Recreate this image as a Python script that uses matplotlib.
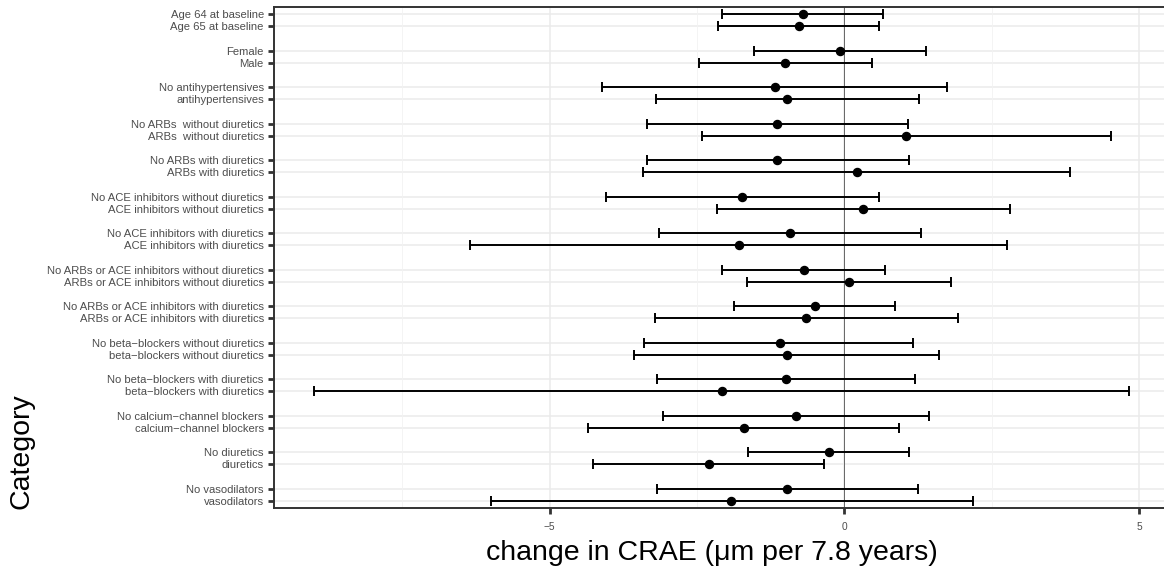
import matplotlib
matplotlib.use('Agg')
import matplotlib.pyplot as plt
from matplotlib.ticker import FixedLocator

# subgroup labels, top to bottom (pairs of levels)
categories = [
    "Age 64 at baseline", "Age 65 at baseline",
    "Female", "Male",
    "No antihypertensives", "antihypertensives",
    "No ARBs  without diuretics", "ARBs  without diuretics",
    "No ARBs with diuretics", "ARBs with diuretics",
    "No ACE inhibitors without diuretics", "ACE inhibitors without diuretics",
    "No ACE inhibitors with diuretics", "ACE inhibitors with diuretics",
    "No ARBs or ACE inhibitors without diuretics", "ARBs or ACE inhibitors without diuretics",
    "No ARBs or ACE inhibitors with diuretics", "ARBs or ACE inhibitors with diuretics",
    "No beta\u2212blockers without diuretics", "beta\u2212blockers without diuretics",
    "No beta\u2212blockers with diuretics", "beta\u2212blockers with diuretics",
    "No calcium\u2212channel blockers", "calcium\u2212channel blockers",
    "No diuretics", "diuretics",
    "No vasodilators", "vasodilators",
]

estimate = [
    -0.71, -0.77,
    -0.07, -1.00,
    -1.18, -0.97,
    -1.14, 1.05,
    -1.14, 0.21,
    -1.73, 0.32,
    -0.92, -1.78,
    -0.69, 0.08,
    -0.50, -0.65,
    -1.10, -0.98,
    -0.99, -2.08,
    -0.82, -1.71,
    -0.27, -2.30,
    -0.97, -1.92,
]

lower = [
    -2.07, -2.14,
    -1.53, -2.46,
    -4.11, -3.19,
    -3.34, -2.42,
    -3.35, -3.41,
    -4.04, -2.16,
    -3.14, -6.34,
    -2.07, -1.65,
    -1.87, -3.22,
    -3.40, -3.57,
    -3.18, -8.99,
    -3.07, -4.35,
    -1.63, -4.27,
    -3.17, -6.00,
]

upper = [
    0.65, 0.59,
    1.38, 0.46,
    1.74, 1.26,
    1.07, 4.52,
    1.09, 3.83,
    0.58, 2.80,
    1.29, 2.76,
    0.68, 1.81,
    0.85, 1.93,
    1.17, 1.61,
    1.20, 4.83,
    1.43, 0.93,
    1.09, -0.34,
    1.25, 2.18,
]

plt.rcParams['font.family'] = ['Liberation Sans', 'DejaVu Sans']

W, H = 1164, 573
fig = plt.figure(figsize=(W / 100, H / 100), dpi=100)

# panel box in pixels; right edge runs slightly past the canvas
left_px, right_px, top_px, bottom_px = 273.5, 1170, 7, 508
ax = fig.add_axes([left_px / W, 1 - bottom_px / H,
                   (right_px - left_px) / W, (bottom_px - top_px) / H])

# each pair sits on two slots, followed by one empty slot
ypos = [(k // 2) * 3 + (k % 2) for k in range(len(categories))]

ax.set_xlim(-9.68, 5.52)
ax.set_ylim(ypos[-1] + 0.6, -0.6)

# grid (theme_bw look)
for y in ypos:
    ax.axhline(y, color='#ebebeb', lw=1.1, zorder=0)
for x in [-5, 0, 5]:
    ax.axvline(x, color='#ebebeb', lw=1.1, zorder=0)
for x in [-7.5, -2.5, 2.5]:
    ax.axvline(x, color='#f2f2f2', lw=0.6, zorder=0)

ax.axvline(0, color='#666666', lw=0.7, zorder=1)

xerr = [[e - l for e, l in zip(estimate, lower)],
        [u - e for e, u in zip(estimate, upper)]]
ax.errorbar(estimate, ypos, xerr=xerr, fmt='o', color='black', ecolor='black',
            elinewidth=1.4, capsize=3.5, capthick=1.4, markersize=5.8, zorder=3)

ax.set_yticks(ypos)
ax.set_yticklabels(categories, fontsize=8.1, color='#4d4d4d')
ax.set_xticks([-5, 0, 5])
ax.set_xticklabels(['\u22125', '0', '5'], fontsize=7.3, color='#4d4d4d')
ax.xaxis.set_minor_locator(FixedLocator([]))

ax.tick_params(axis='y', length=4, width=2, color='#333333', pad=3)
ax.tick_params(axis='x', length=4, width=2, color='#333333', pad=6)

for side in ['left', 'bottom', 'top', 'right']:
    ax.spines[side].set_color('#333333')
    ax.spines[side].set_linewidth(1.4)

fig.text(712 / W, 1 - 553 / H, 'change in CRAE (\u03bcm per 7.8 years)',
         fontsize=20.5, ha='center', va='center', color='black')
fig.text(22 / W, 1 - 451 / H, 'Category', fontsize=20.5, rotation=90,
         ha='center', va='center', color='black')

fig.savefig('out.png', dpi=100)
